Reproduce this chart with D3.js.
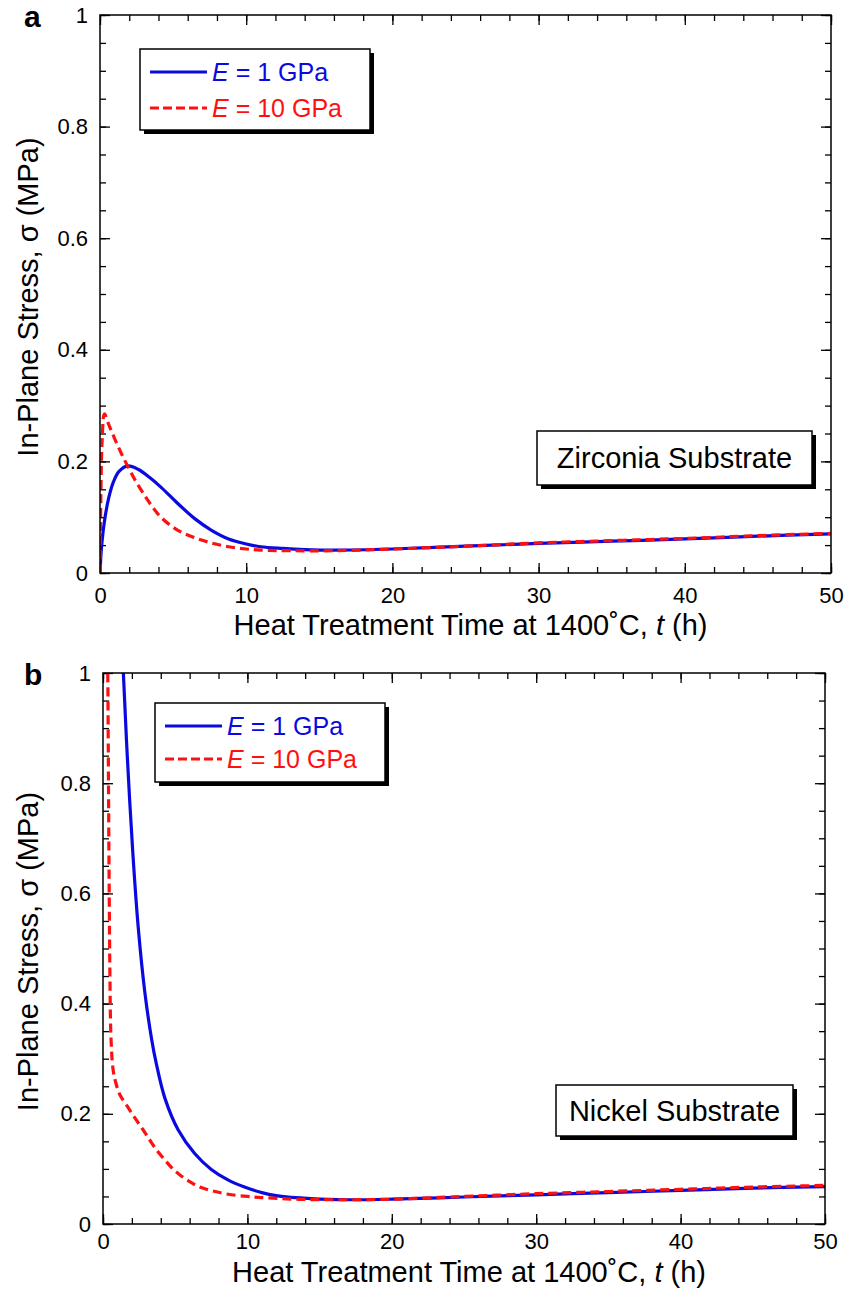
<!DOCTYPE html>
<html>
  <head>
    <meta charset="utf-8">
    <title>In-plane stress vs heat treatment time</title>
    <script src="https://cdn.jsdelivr.net/npm/d3@7"></script>
    <style>
      body { margin: 0; background: #fff; }
      text { font-family: "Liberation Sans", Arial, sans-serif; }
      .tick line { stroke: #000; stroke-width: 1.3; }
      .tick text { font-size: 22px; fill: #000; }
      .domain { display: none; }
    </style>
  </head>

  <body>
    <svg id="chart" width="847" height="1289"></svg>

    <script>
      // tick values
      const timeTicks = [0, 10, 20, 30, 40, 50];
      const timeMinor = d3.range(0, 50.01, 2);
      const stressTicks = [0, 0.2, 0.4, 0.6, 0.8, 1];
      const stressMinor = d3.range(0, 1.001, 0.05);

      // legend labels (E is italic)
      const legendValues = ["1 GPa", "10 GPa"];

      // (a) zirconia substrate
      const zrE1Time = [0, 0.1, 0.3, 0.6, 0.9, 1.3, 1.9, 2.6, 3.4, 4.2, 5.3, 6.5, 7.6, 8.8, 10, 11, 12.5, 14, 16, 20, 25, 30, 35, 40, 45, 50];
      const zrE1Stress = [0, 0.045, 0.092, 0.135, 0.162, 0.182, 0.192, 0.186, 0.171, 0.153, 0.125, 0.097, 0.077, 0.061, 0.052, 0.047, 0.044, 0.042, 0.041, 0.043, 0.048, 0.053, 0.057, 0.061, 0.066, 0.070];
      const zrE10Time = [0, 0.05, 0.15, 0.3, 0.6, 1.0, 1.5, 2.0, 2.5, 3.1, 3.6, 4.2, 5.3, 6.5, 7.6, 8.8, 10, 11, 13, 16, 20, 25, 30, 35, 40, 45, 50];
      const zrE10Stress = [0, 0.12, 0.24, 0.285, 0.266, 0.241, 0.212, 0.186, 0.162, 0.137, 0.118, 0.099, 0.077, 0.063, 0.054, 0.047, 0.043, 0.041, 0.040, 0.040, 0.043, 0.048, 0.054, 0.058, 0.062, 0.067, 0.071];

      // (b) nickel substrate
      const niE1Time = [1.25, 1.41, 1.68, 2.05, 2.45, 2.9, 3.37, 3.7, 4.29, 5.2, 6.35, 7.5, 8.65, 9.8, 11, 12.1, 14.4, 17, 20, 25, 30, 35, 40, 45, 50];
      const niE1Stress = [1.1, 1.0, 0.85, 0.68, 0.535, 0.42, 0.335, 0.29, 0.228, 0.171, 0.128, 0.099, 0.080, 0.067, 0.057, 0.051, 0.046, 0.044, 0.045, 0.049, 0.053, 0.057, 0.061, 0.065, 0.068];
      const niE10Time = [0.3, 0.33, 0.38, 0.43, 0.48, 0.55, 0.7, 0.9, 1.18, 1.7, 2.22, 2.75, 3.25, 3.75, 4.29, 4.8, 5.33, 6.0, 6.7, 7.6, 8.67, 10, 11, 13.3, 16, 20, 25, 30, 35, 40, 45, 50];
      const niE10Stress = [1.05, 1.0, 0.8, 0.6, 0.45, 0.34, 0.28, 0.255, 0.234, 0.213, 0.192, 0.172, 0.152, 0.133, 0.116, 0.101, 0.089, 0.077, 0.067, 0.060, 0.054, 0.050, 0.048, 0.045, 0.044, 0.045, 0.050, 0.055, 0.059, 0.063, 0.067, 0.070];

      const blue = "#0a0ae0";
      const red = "#ff1010";

      const svg = d3.select("#chart");

      function zip(ts, ss) {
        return ts.map(function(t, i) { return { t: t, s: ss[i] }; });
      }

      const panels = [
        {
          id: "a", note: "Zirconia Substrate",
          left: 100, right: 831, top: 15, bottom: 573,
          e1: zip(zrE1Time, zrE1Stress), e10: zip(zrE10Time, zrE10Stress),
          legend: { x: 140, y: 49, w: 230, h: 81, gap: 36 },
          box: { x: 537, y: 431, w: 275, h: 54 },
          tickPad: 14, titleY: 635
        },
        {
          id: "b", note: "Nickel Substrate",
          left: 103, right: 825, top: 673, bottom: 1224,
          e1: zip(niE1Time, niE1Stress), e10: zip(niE10Time, niE10Stress),
          legend: { x: 155, y: 703, w: 230, h: 79, gap: 33 },
          box: { x: 556, y: 1085, w: 237, h: 51 },
          tickPad: 9, titleY: 1282
        }
      ];

      panels.forEach(drawPanel);

      function fmtStress(d) { return String(+d.toFixed(1)); }

      function shadowBox(g, b) {
        g.append("rect")
          .attr("x", b.x + 4).attr("y", b.y + 4)
          .attr("width", b.w).attr("height", b.h)
          .attr("fill", "#000");
        g.append("rect")
          .attr("x", b.x).attr("y", b.y)
          .attr("width", b.w).attr("height", b.h)
          .attr("fill", "#fff")
          .attr("stroke", "#000")
          .attr("stroke-width", 1.5);
      }

      function drawPanel(p) {
        const g = svg.append("g");

        const x = d3.scaleLinear().domain([0, 50]).range([p.left, p.right]);
        const y = d3.scaleLinear().domain([0, 1]).range([p.bottom, p.top]);

        // minor ticks on all four sides
        g.append("g").attr("transform", "translate(0," + p.bottom + ")")
          .call(d3.axisBottom(x).tickValues(timeMinor).tickSize(-6).tickFormat(""));
        g.append("g").attr("transform", "translate(0," + p.top + ")")
          .call(d3.axisTop(x).tickValues(timeMinor).tickSize(-6).tickFormat(""));
        g.append("g").attr("transform", "translate(" + p.left + ",0)")
          .call(d3.axisLeft(y).tickValues(stressMinor).tickSize(-6).tickFormat(""));
        g.append("g").attr("transform", "translate(" + p.right + ",0)")
          .call(d3.axisRight(y).tickValues(stressMinor).tickSize(-6).tickFormat(""));

        // major ticks
        g.append("g").attr("transform", "translate(0," + p.bottom + ")")
          .call(d3.axisBottom(x).tickValues(timeTicks).tickSize(-10).tickPadding(p.tickPad));
        g.append("g").attr("transform", "translate(0," + p.top + ")")
          .call(d3.axisTop(x).tickValues(timeTicks).tickSize(-10).tickFormat(""));
        g.append("g").attr("transform", "translate(" + p.left + ",0)")
          .call(d3.axisLeft(y).tickValues(stressTicks).tickSize(-10).tickPadding(12).tickFormat(fmtStress));
        g.append("g").attr("transform", "translate(" + p.right + ",0)")
          .call(d3.axisRight(y).tickValues(stressTicks).tickSize(-10).tickFormat(""));

        // curves
        const clipId = "clip-" + p.id;
        g.append("clipPath").attr("id", clipId)
          .append("rect")
            .attr("x", p.left).attr("y", p.top)
            .attr("width", p.right - p.left).attr("height", p.bottom - p.top);

        const line = d3.line()
          .x(function(d) { return x(d.t); })
          .y(function(d) { return y(d.s); })
          .curve(d3.curveCatmullRom.alpha(0.5));

        const curves = g.append("g").attr("clip-path", "url(#" + clipId + ")");
        curves.append("path")
          .attr("d", line(p.e1))
          .attr("fill", "none")
          .attr("stroke", blue)
          .attr("stroke-width", 3.2);
        curves.append("path")
          .attr("d", line(p.e10))
          .attr("fill", "none")
          .attr("stroke", red)
          .attr("stroke-width", 3.2)
          .attr("stroke-dasharray", "9,5");

        // frame
        g.append("rect")
          .attr("x", p.left).attr("y", p.top)
          .attr("width", p.right - p.left).attr("height", p.bottom - p.top)
          .attr("fill", "none")
          .attr("stroke", "#000")
          .attr("stroke-width", 1.5);

        // legend
        const L = p.legend;
        shadowBox(g, L);
        legendValues.forEach(function(v, k) {
          const ly = L.y + 23 + k * L.gap;
          const col = k === 0 ? blue : red;
          g.append("line")
            .attr("x1", L.x + 10).attr("x2", L.x + 67)
            .attr("y1", ly).attr("y2", ly)
            .attr("stroke", col)
            .attr("stroke-width", 3.2)
            .attr("stroke-dasharray", k === 0 ? null : "9,4");
          const t = g.append("text")
            .attr("x", L.x + 72).attr("y", ly + 9)
            .attr("fill", col)
            .style("font-size", "25px");
          t.append("tspan").style("font-style", "italic").text("E");
          t.append("tspan").text(" = " + v);
        });

        // substrate note
        const B = p.box;
        shadowBox(g, B);
        g.append("text")
          .attr("x", B.x + B.w / 2).attr("y", B.y + B.h / 2 + 10)
          .attr("text-anchor", "middle")
          .style("font-size", "29px")
          .text(p.note);

        // axis titles
        const xt = g.append("text")
          .attr("x", (p.left + p.right) / 2 + 5).attr("y", p.titleY)
          .attr("text-anchor", "middle")
          .style("font-size", "29px");
        xt.append("tspan").text("Heat Treatment Time at 1400\u02DAC, ");
        xt.append("tspan").style("font-style", "italic").text("t");
        xt.append("tspan").text(" (h)");

        g.append("text")
          .attr("transform", "translate(38," + ((p.top + p.bottom) / 2 + 3) + ") rotate(-90)")
          .attr("text-anchor", "middle")
          .style("font-size", "29px")
          .text("In-Plane Stress, \u03C3 (MPa)");

        // panel letter
        g.append("text")
          .attr("x", 24).attr("y", p.top + 12)
          .style("font-size", "30px")
          .style("font-weight", "bold")
          .text(p.id);
      }
    </script>
  </body>
</html>
